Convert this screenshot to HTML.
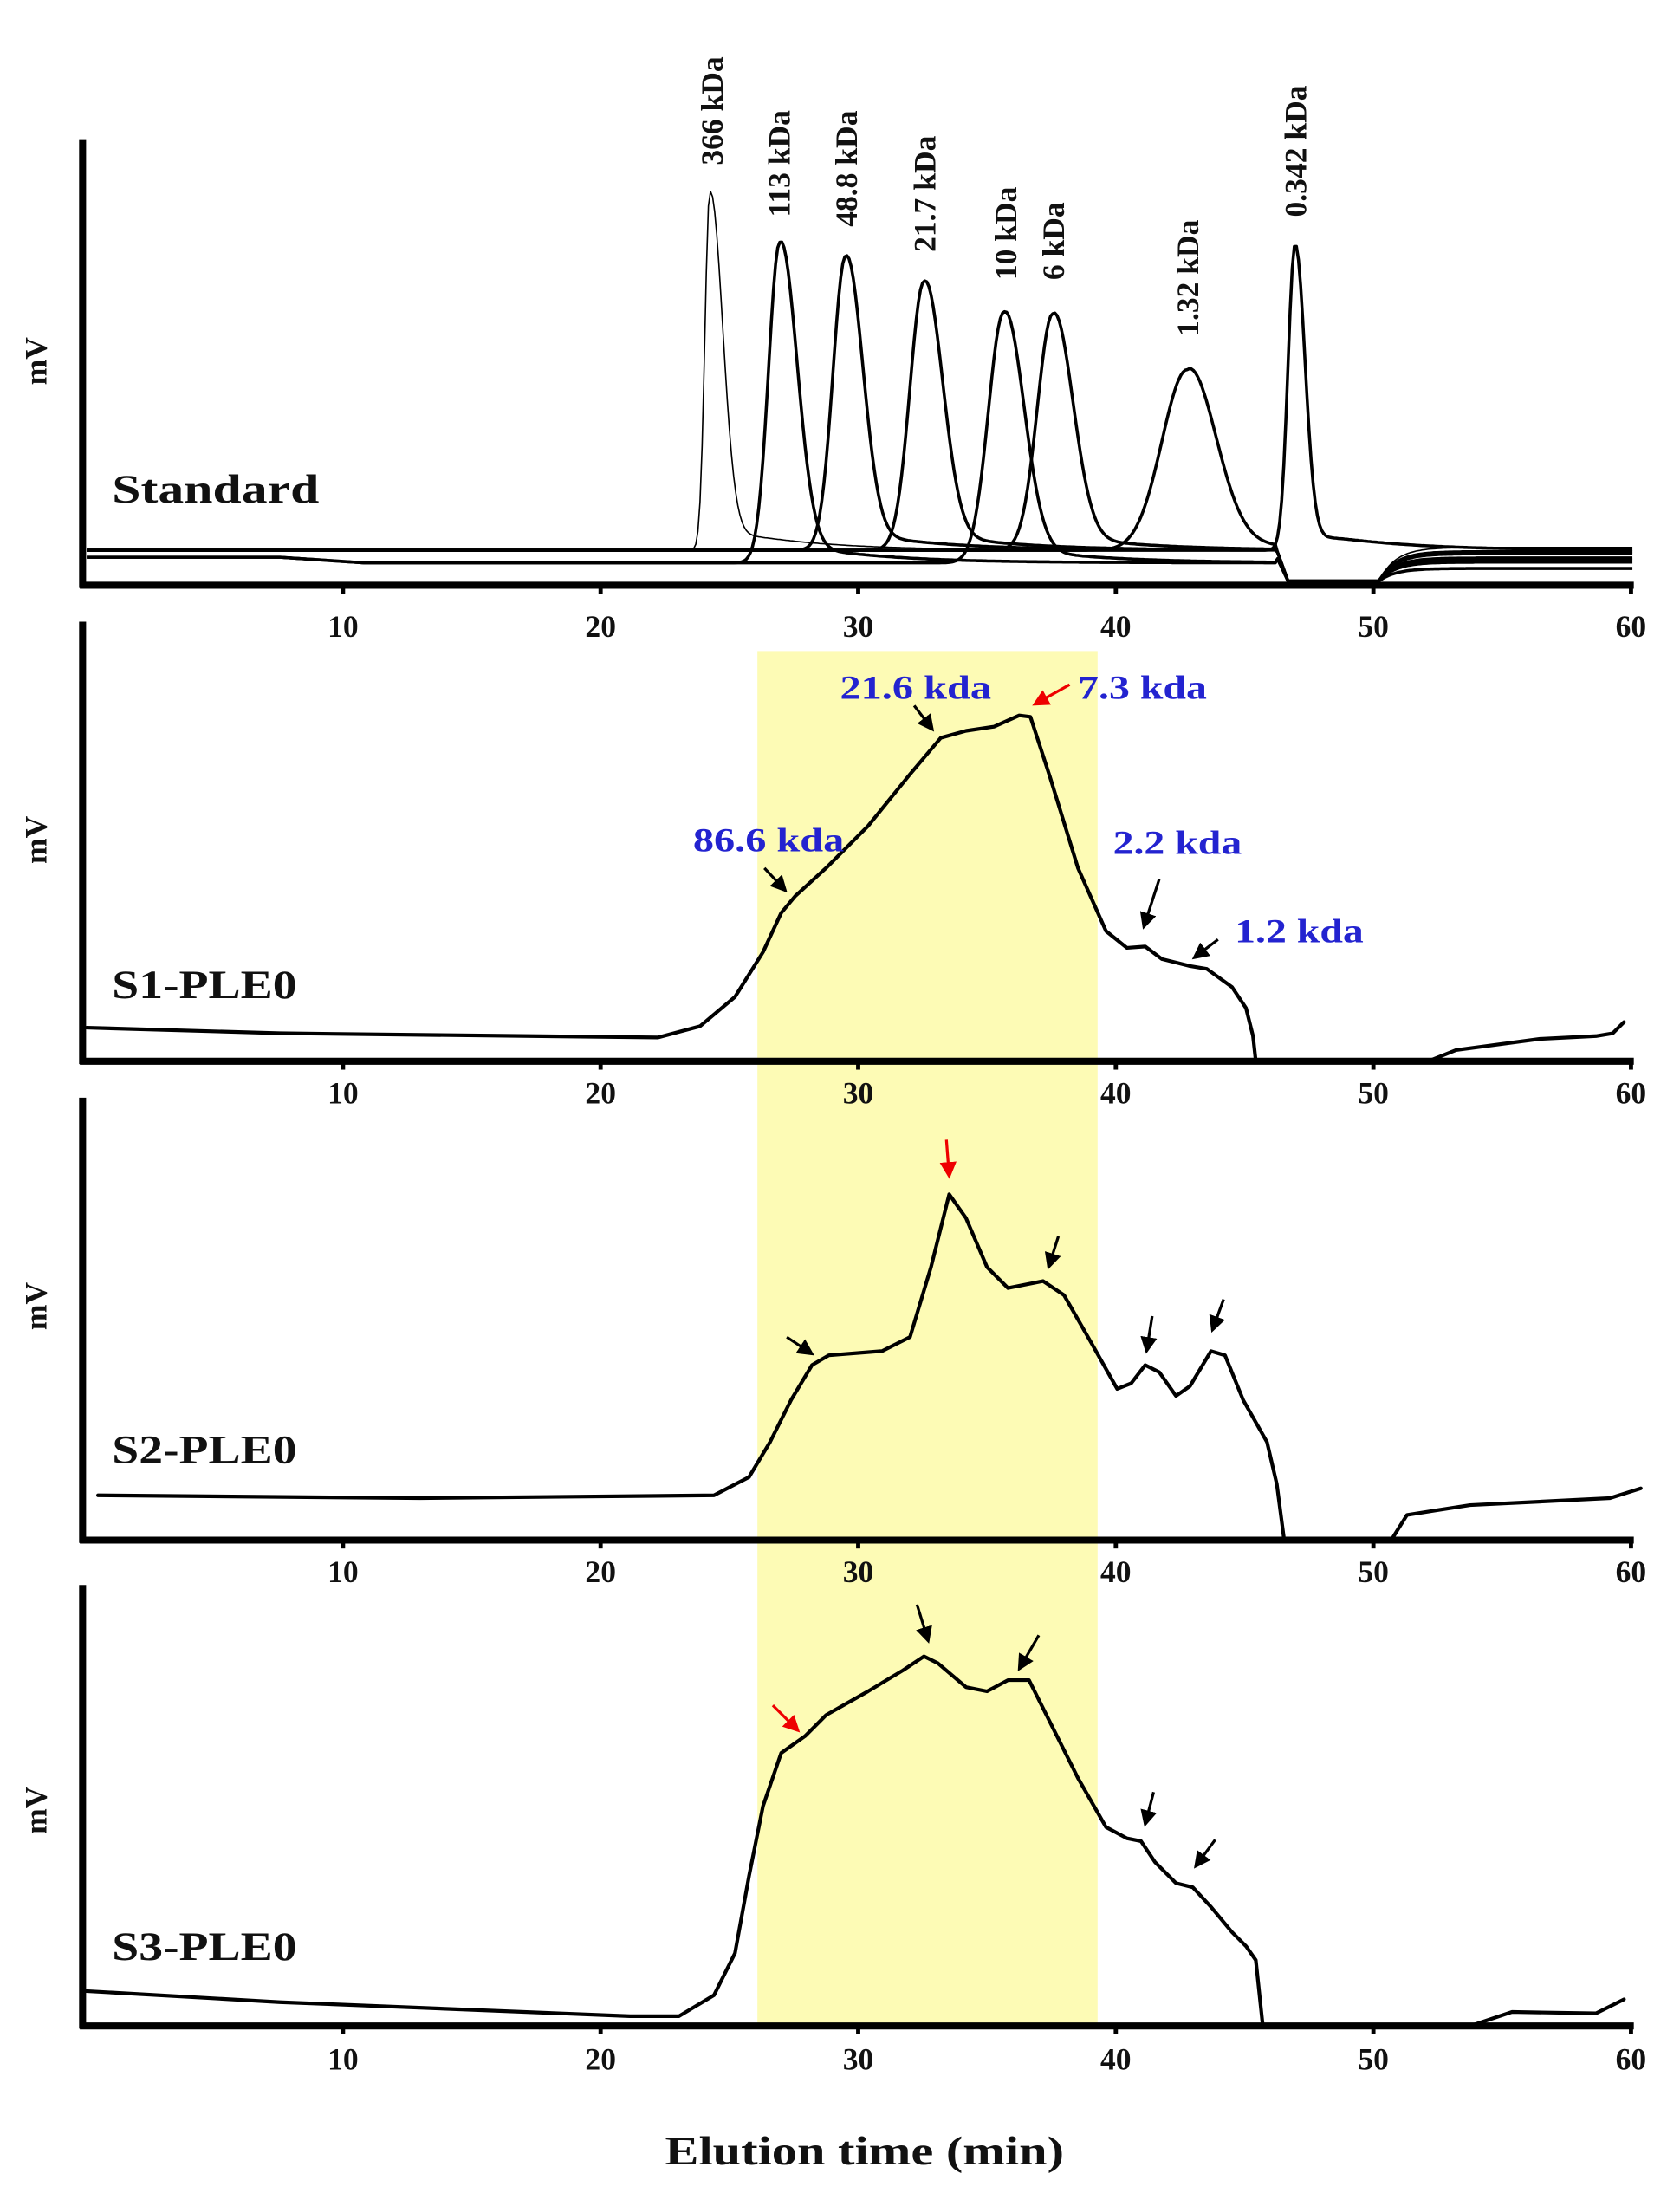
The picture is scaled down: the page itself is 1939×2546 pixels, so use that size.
<!DOCTYPE html>
<html><head><meta charset="utf-8"><style>
html,body{margin:0;padding:0;background:#fff;}
svg{display:block;}
text{font-family:"Liberation Serif",serif;font-weight:bold;}
</style></head><body>
<svg id="s" width="1939" height="2546" viewBox="0 0 1200 1575.6" preserveAspectRatio="none" xmlns="http://www.w3.org/2000/svg">
<defs>
<marker id="ab" markerWidth="6" markerHeight="6" refX="5" refY="3" orient="auto" markerUnits="strokeWidth"><path d="M0,0 L6,3 L0,6 z" fill="#000"/></marker>
<marker id="ar" markerWidth="6" markerHeight="6" refX="5" refY="3" orient="auto" markerUnits="strokeWidth"><path d="M0,0 L6,3 L0,6 z" fill="#e00"/></marker>
</defs>
<rect x="541" y="465" width="243" height="982" fill="#fdfbb5"/>
<g id="axes"></g>
<g id="std" fill="none" stroke="#000" stroke-linejoin="round"></g>
<g fill="none" stroke="#000" stroke-width="2.6" stroke-linejoin="round" stroke-linecap="round">
<polyline points="62,734 200,738 470,741 500,733 525,712 545,680 558,652 568,640 590,620 620,590 650,553 672,527 690,522 710,519 728,511 736,512 750,555 770,620 790,665 805,677 818,676 830,685 850,690 862,692 880,705 890,720 895,740 897,758"/>
<polyline points="1020,758 1040,750 1100,742 1140,740 1152,738 1160,730"/>
<polyline points="70,1068 300,1070 510,1068 535,1055 550,1030 565,1000 580,975 592,968 630,965 650,955 665,905 678,853 690,870 705,905 720,920 745,915 760,925 780,960 798,992 808,988 818,975 828,980 840,997 850,990 865,965 875,968 888,1000 905,1030 912,1060 917,1098"/>
<polyline points="995,1098 1005,1082 1050,1075 1150,1070 1172,1063"/>
<polyline points="60,1422 200,1430 450,1440 485,1440 510,1425 525,1395 535,1340 545,1290 558,1252 575,1240 590,1225 620,1208 645,1193 660,1183 670,1188 690,1205 705,1208 720,1200 735,1200 750,1230 770,1270 790,1305 805,1313 815,1315 825,1330 840,1345 852,1348 865,1362 880,1380 890,1390 897,1400 902,1447"/>
<polyline points="1050,1447 1080,1437 1140,1438 1160,1428"/>
</g>
<g stroke-width="2" fill="none">
<line x1="546" y1="620" x2="561" y2="636" stroke="#000" marker-end="url(#ab)"/>
<line x1="653" y1="504" x2="666" y2="521" stroke="#000" marker-end="url(#ab)"/>
<line x1="764" y1="489" x2="739" y2="503" stroke="#e00" marker-end="url(#ar)"/>
<line x1="828" y1="628" x2="817" y2="662" stroke="#000" marker-end="url(#ab)"/>
<line x1="870" y1="671" x2="853" y2="684" stroke="#000" marker-end="url(#ab)"/>
<line x1="562" y1="955" x2="580" y2="967" stroke="#000" marker-end="url(#ab)"/>
<line x1="676" y1="814" x2="678" y2="840" stroke="#e00" marker-end="url(#ar)"/>
<line x1="756" y1="883" x2="749" y2="905" stroke="#000" marker-end="url(#ab)"/>
<line x1="823" y1="940" x2="819" y2="965" stroke="#000" marker-end="url(#ab)"/>
<line x1="874" y1="928" x2="866" y2="950" stroke="#000" marker-end="url(#ab)"/>
<line x1="552" y1="1218" x2="570" y2="1236" stroke="#e00" marker-end="url(#ar)"/>
<line x1="655" y1="1146" x2="663" y2="1172" stroke="#000" marker-end="url(#ab)"/>
<line x1="742" y1="1168" x2="728" y2="1192" stroke="#000" marker-end="url(#ab)"/>
<line x1="824" y1="1280" x2="818" y2="1303" stroke="#000" marker-end="url(#ab)"/>
<line x1="868" y1="1314" x2="854" y2="1333" stroke="#000" marker-end="url(#ab)"/>
</g>
<g fill="#2323d0" font-size="24">
<text x="495" y="608" textLength="108" lengthAdjust="spacingAndGlyphs">86.6 kda</text>
<text x="600" y="499" textLength="108" lengthAdjust="spacingAndGlyphs">21.6 kda</text>
<text x="770" y="499" textLength="92" lengthAdjust="spacingAndGlyphs">7.3 kda</text>
<text x="795" y="610" textLength="92" lengthAdjust="spacingAndGlyphs">2.2 kda</text>
<text x="882" y="673" textLength="92" lengthAdjust="spacingAndGlyphs">1.2 kda</text>
</g>
<g font-size="29" fill="#111">
<text x="80" y="359" textLength="148" lengthAdjust="spacingAndGlyphs">Standard</text>
<text x="80" y="713" textLength="132" lengthAdjust="spacingAndGlyphs">S1-PLE0</text>
<text x="80" y="1045" textLength="132" lengthAdjust="spacingAndGlyphs">S2-PLE0</text>
<text x="80" y="1400" textLength="132" lengthAdjust="spacingAndGlyphs">S3-PLE0</text>
<text x="475" y="1546" textLength="285" lengthAdjust="spacingAndGlyphs">Elution time (min)</text>
</g>
<g font-size="22" fill="#111">
<text transform="translate(33,275) rotate(-90)">mV</text>
<text transform="translate(33,617) rotate(-90)">mV</text>
<text transform="translate(33,950) rotate(-90)">mV</text>
<text transform="translate(33,1310) rotate(-90)">mV</text>
</g>
<g font-size="22" fill="#111">
<text transform="translate(516,118) rotate(-90)">366 kDa</text>
<text transform="translate(564,155) rotate(-90)">113 kDa</text>
<text transform="translate(612,162) rotate(-90)">48.8 kDa</text>
<text transform="translate(668,180) rotate(-90)">21.7 kDa</text>
<text transform="translate(726,200) rotate(-90)">10 kDa</text>
<text transform="translate(760,200) rotate(-90)">6 kDa</text>
<text transform="translate(856,240) rotate(-90)">1.32 kDa</text>
<text transform="translate(933,155) rotate(-90)">0.342 kDa</text>
</g>
</svg>
<script>
var NS="http://www.w3.org/2000/svg";
function el(p,t,a){var e=document.createElementNS(NS,t);for(var k in a)e.setAttribute(k,a[k]);p.appendChild(e);return e;}
var ax=document.getElementById("axes");
var panels=[[100,418,455],[444,758,788],[784,1100,1130],[1132,1447,1478]];
panels.forEach(function(p){
 el(ax,"line",{x1:59,y1:p[0],x2:59,y2:p[1]+2,stroke:"#000","stroke-width":5});
 el(ax,"line",{x1:57,y1:p[1],x2:1167,y2:p[1],stroke:"#000","stroke-width":5});
 for(var i=1;i<=6;i++){var x=61+i*184;
  el(ax,"line",{x1:x,y1:p[1],x2:x,y2:p[1]+6,stroke:"#000","stroke-width":3});
  var t=el(ax,"text",{x:x,y:p[2],"font-size":22,"text-anchor":"middle",fill:"#111"});t.textContent=String(i*10);}
});
var sg=document.getElementById("std");
var pk=[[507,137,3.5,9,393,1],[557,173,8,12,398,2.2],[604,183,9,12,393,2.2],[660,201,10,13,393,2.2],[717,223,11,14,398,2.2],[752,224,11,14,393,2.2],[848,264,18,20,393,2.2],[925,175,5,7,393,2.2]];
pk.forEach(function(q,j){
 var d="";
 for(var x=62;x<=1167;x+=1.5){
  var y;
  if(q[0]<920 && x>912 && x<985){ y = x<920? q[4]+(415-q[4])*(x-912)/8 : 415; }
  else{
   var b=q[4];
   if(j==1||j==4){ if(x>200) b=q[4]+4*Math.min(1,(x-200)/60); }
   var s=x<q[0]?q[2]:q[3];
   var g=Math.exp(-Math.pow((x-q[0])/s,2)/2);
   var tail=x>q[0]?0.07*(1-Math.exp(-(x-q[0])/12))*Math.exp(-(x-q[0])/60):0;
   y=b-(b-q[1])*(g+tail);
   if(q[0]<920 && x>=985){ var r=x-985; y=415-(415-(b-2+j*1.5))*(1-Math.exp(-r/12)); }
   if(j==7 && x>945) y=Math.min(y,415);
  }
  d+=(d?"L":"M")+x.toFixed(1)+","+y.toFixed(1);
 }
 el(sg,"path",{d:d,"stroke-width":q[5]});
});
</script>
</body></html>
